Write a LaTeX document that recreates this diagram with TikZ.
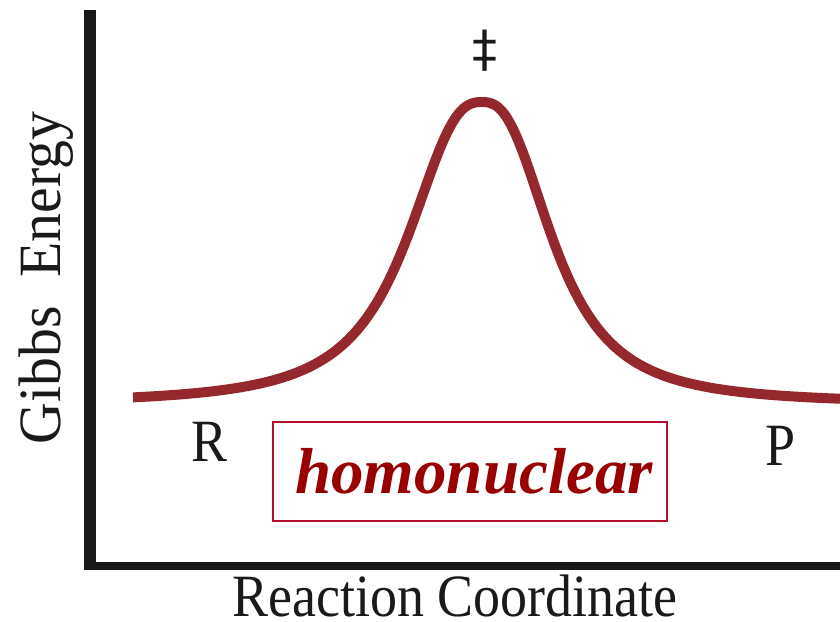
\documentclass[tikz,border=0pt]{standalone}
\usepackage{fontspec}
\setmainfont{Liberation Serif}
\newfontfamily\lblfont[FakeStretch=0.9]{Liberation Serif}
\newfontfamily\markfont{DejaVu Sans}
\definecolor{axisblack}{RGB}{26,26,26}
\definecolor{pathred}{RGB}{148,40,44}
\definecolor{boxred}{RGB}{176,16,42}
\definecolor{wordred}{RGB}{153,0,0}
\tikzset{
  axisline/.style={axisblack},
  lbl/.style={inner sep=0pt, text=axisblack, font=\lblfont\fontsize{60}{60}\selectfont},
  declare function={gibbs(\t)=404-302/(1+pow(abs(\t-482)/((\t<482)?81:76)+0.001,2.6));},
}
\begin{document}
\begin{tikzpicture}[x=1pt, y=-1pt]
    \useasboundingbox (0,0) rectangle (840,621);

    % Axes
    \coordinate (top) at (90,10);
    \coordinate (origin) at (90,570);
    \coordinate (corner) at (84,566);
    \coordinate (right) at (840,566);
    \draw[axisline, line width=12pt] (top) -- (origin);
    \draw[axisline, line width=8pt] (corner) -- (right);

    % Energy profile
    \draw[pathred, line width=10pt, line join=round]
        plot[domain=133:840, samples=200, smooth] (\x, {gibbs(\x)});

    % Labels
    \node[lbl, font=\markfont\fontsize{50}{50}\selectfont] (ts) at (485,51) {‡};
    \node[lbl, anchor=base] (r) at (210,461) {R};
    \node[lbl, anchor=base] (p) at (781,465) {P};
    \node[lbl, anchor=base] (xlab) at (455,616) {Reaction Coordinate};
    \node[lbl, anchor=base, rotate=90] (ylab) at (60,278) {\scalebox{1.07}[1]{Gibbs\ \ Energy}};
    \node[draw=boxred, line width=1.5pt, minimum width=394pt, minimum height=99pt,
          inner sep=0pt, text=wordred,
          font=\fontsize{65}{65}\selectfont\bfseries\itshape] (tag) at (470,471.5) {\hspace{8pt}homonuclear};
  \end{tikzpicture}
\end{document}
